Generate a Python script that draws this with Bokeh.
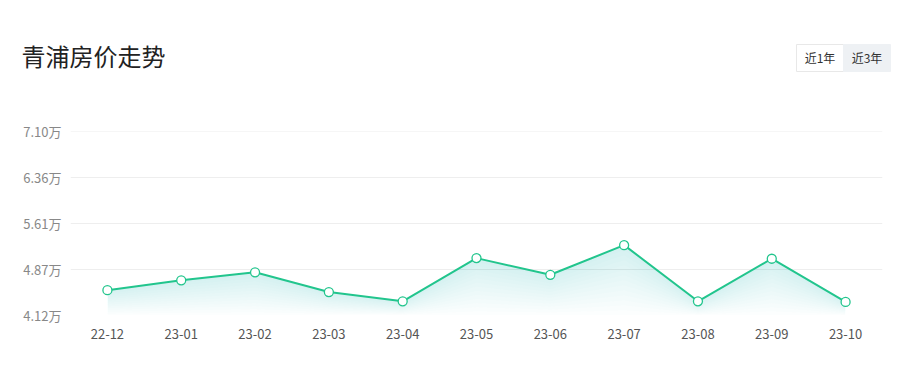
from bokeh.plotting import figure
from bokeh.models import FactorRange, Range1d, FixedTicker
from bokeh.layouts import column
from bokeh.core.properties import value
from bokeh.embed import file_html
from bokeh.resources import INLINE

months = ["22-12", "23-01", "23-02", "23-03", "23-04", "23-05",
          "23-06", "23-07", "23-08", "23-09", "23-10"]
prices = [4.53, 4.69, 4.82, 4.50, 4.35, 5.05, 4.78, 5.26, 4.35, 5.04, 4.34]
y_ticks = [4.12, 4.865, 5.61, 6.355, 7.10]
y_tick_labels = ["4.12万", "4.87万", "5.61万", "6.36万", "7.10万"]
title_text = "青浦房价走势"
buttons = ["近1年", "近3年"]

GREEN = "#22c58d"
FONT = "Noto Sans CJK SC"
HEADER_H = 118

# ---- header (title + range buttons), pixel coordinates, y downwards ----
h = figure(width=909, height=HEADER_H, output_backend="svg", toolbar_location=None,
           x_range=Range1d(0, 909), y_range=Range1d(HEADER_H, 0),
           min_border=0, x_axis_type=None, y_axis_type=None)
h.frame_align = False
h.outline_line_color = None
h.grid.grid_line_color = None
h.text(x=[21], y=[55], text=[title_text], text_font=value(FONT),
       text_font_size="24px", text_color="#222222", text_baseline="middle")
h.quad(left=[796, 843], right=[843, 890], top=[44, 44], bottom=[71, 71],
       fill_color=["white", "#eef1f4"], line_color=["#e8e8e8", "#eef1f4"], line_width=1)
h.text(x=[819.5, 866.5], y=[57, 57], text=buttons, text_font=value(FONT),
       text_font_size="12px", text_color="#333333", text_baseline="middle",
       text_align="center")

# ---- chart ----
p = figure(width=909, height=367 - HEADER_H, output_backend="svg", toolbar_location=None,
           x_range=FactorRange(*months), y_range=Range1d(y_ticks[0], y_ticks[-1] + 0.002),
           min_border_left=70, min_border_right=27, min_border_top=131 - HEADER_H,
           min_border_bottom=52)
p.frame_align = False
p.outline_line_color = None
p.background_fill_color = "white"
p.border_fill_color = "white"

# gradient-like area fill
base = y_ticks[0]
N = 14
for i in range(N):
    f = i / N
    lower = [base + (v - base) * f for v in prices]
    p.varea(x=months, y1=lower, y2=prices, fill_color=GREEN, fill_alpha=0.011)

p.line(months, prices, line_color=GREEN, line_width=2)
p.scatter(months, prices, size=9, fill_color="white", line_color=GREEN, line_width=1.3)

p.yaxis.ticker = FixedTicker(ticks=y_ticks)
p.yaxis.major_label_overrides = {t: l for t, l in zip(y_ticks, y_tick_labels)}
p.yaxis.axis_line_color = None
p.yaxis.major_tick_line_color = None
p.yaxis.minor_tick_line_color = None
p.yaxis.major_label_text_color = "#888888"
p.yaxis.major_label_text_font = FONT
p.yaxis.major_label_text_font_size = "13px"
p.yaxis.major_label_standoff = 3

p.xaxis.axis_line_color = None
p.xaxis.major_tick_line_color = None
p.xaxis.minor_tick_line_color = None
p.xaxis.major_label_text_color = "#555555"
p.xaxis.major_label_text_font = FONT
p.xaxis.major_label_text_font_size = "13px"
p.xaxis.major_label_standoff = 7

p.xgrid.grid_line_color = None
p.ygrid.grid_line_color = "#eeeeee"
p.ygrid.grid_line_width = 1

layout = column(h, p, spacing=0)
open("out.html", "w").write(file_html(layout, INLINE))
